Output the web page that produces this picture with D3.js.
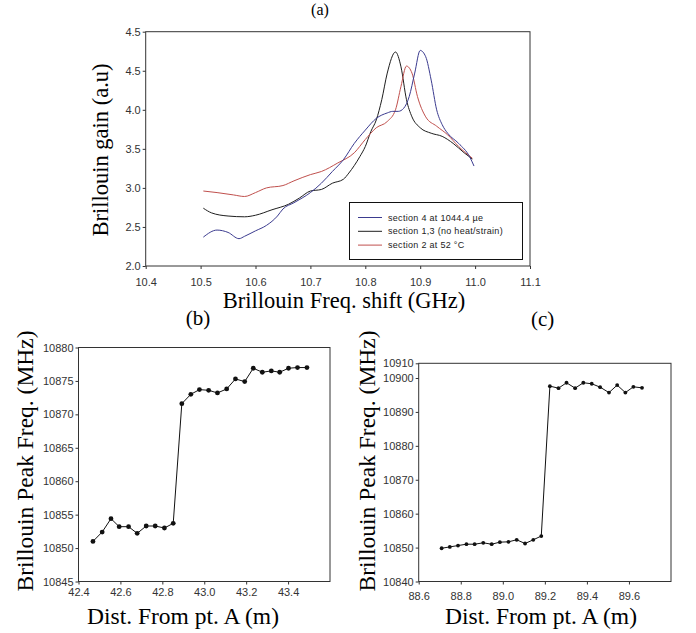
<!DOCTYPE html>
<html>
<head>
  <style type="text/css">
    body { margin: 0; background: #fff; }
    svg text { fill: #222; }
    .tick text { font-family: "Liberation Sans", Arial, sans-serif; font-size: 11px; fill: #333; }
    .tick line { stroke: #333; }
    .lbl { font-family: "Liberation Serif", "Times New Roman", serif; fill: #000; }
    .frame { fill: none; stroke: #333; stroke-width: 1px; }
    .leg text { font-family: "Liberation Sans", Arial, sans-serif; font-size: 9px; letter-spacing: 0.3px; }
  </style>
</head>
<body>
<svg></svg>
<script src="https://d3js.org/d3.v7.min.js"></script>
<script>
    var width = 696;
    var height = 633;

    /* (a) Brillouin gain spectra */
    var freqTicks = [10.4, 10.5, 10.6, 10.7, 10.8, 10.9, 11.0, 11.1];
    var gainTicks = [2.0, 2.5, 3.0, 3.5, 4.0, 4.5, 5.0];
    var gainTickLabels = ["2.0", "2.5", "3.0", "3.5", "4.0", "4.5", "4.5"];

    var blueF = [10.505, 10.53, 10.55, 10.57, 10.58, 10.60, 10.62, 10.64, 10.65, 10.67, 10.70, 10.72, 10.74, 10.76, 10.78, 10.80, 10.82, 10.84, 10.85, 10.86, 10.87, 10.88, 10.89, 10.90, 10.91, 10.92, 10.93, 10.94, 10.95, 10.97, 10.99, 10.998];
    var blueG = [2.37, 2.46, 2.43, 2.35, 2.38, 2.45, 2.52, 2.64, 2.73, 2.81, 2.94, 3.06, 3.21, 3.36, 3.57, 3.74, 3.89, 3.96, 3.98, 3.98, 4.02, 4.17, 4.47, 4.76, 4.68, 4.38, 4.00, 3.81, 3.70, 3.57, 3.40, 3.28];

    var blackF = [10.505, 10.52, 10.55, 10.58, 10.60, 10.63, 10.66, 10.68, 10.70, 10.72, 10.74, 10.76, 10.77, 10.79, 10.80, 10.81, 10.82, 10.83, 10.84, 10.855, 10.865, 10.875, 10.885, 10.90, 10.92, 10.94, 10.96, 10.98, 10.995];
    var blackG = [2.74, 2.68, 2.64, 2.63, 2.65, 2.72, 2.79, 2.87, 2.96, 2.98, 3.06, 3.11, 3.19, 3.40, 3.53, 3.72, 3.87, 4.13, 4.47, 4.74, 4.55, 4.13, 3.91, 3.77, 3.70, 3.66, 3.57, 3.45, 3.37];

    var redF = [10.505, 10.53, 10.56, 10.58, 10.60, 10.62, 10.65, 10.67, 10.70, 10.72, 10.75, 10.78, 10.80, 10.82, 10.84, 10.855, 10.865, 10.875, 10.885, 10.895, 10.91, 10.93, 10.95, 10.97, 10.995];
    var redG = [2.96, 2.94, 2.91, 2.89, 2.94, 3.00, 3.03, 3.09, 3.17, 3.21, 3.32, 3.45, 3.62, 3.77, 3.85, 4.00, 4.30, 4.56, 4.47, 4.17, 3.91, 3.79, 3.68, 3.53, 3.38];

    var legendNames = ["section 4 at 1044.4 \u00b5e", "section 1,3 (no heat/strain)", "section 2 at 52 \u00b0C"];
    var lineColors = ["#3b3b8f", "#1e1e1e", "#c0504d"];

    /* (b) peak frequency vs distance, section 2 */
    var distB = [42.469, 42.513, 42.555, 42.594, 42.639, 42.680, 42.723, 42.766, 42.810, 42.852, 42.893, 42.936, 42.977, 43.021, 43.063, 43.107, 43.149, 43.193, 43.234, 43.277, 43.320, 43.360, 43.402, 43.445, 43.490];
    var peakB = [10851.0, 10852.4, 10854.4, 10853.2, 10853.2, 10852.2, 10853.3, 10853.3, 10853.0, 10853.7, 10871.6, 10873.0, 10873.7, 10873.6, 10873.2, 10873.8, 10875.3, 10874.9, 10876.9, 10876.3, 10876.5, 10876.3, 10876.9, 10877.0, 10877.0];
    var distTicksB = [42.4, 42.6, 42.8, 43.0, 43.2, 43.4];
    var peakTicksB = [10845, 10850, 10855, 10860, 10865, 10870, 10875, 10880];

    /* (c) peak frequency vs distance, section 4 */
    var distC = [88.709, 88.748, 88.787, 88.827, 88.866, 88.907, 88.947, 88.986, 89.027, 89.066, 89.106, 89.145, 89.183, 89.224, 89.265, 89.303, 89.344, 89.383, 89.423, 89.463, 89.505, 89.544, 89.583, 89.621, 89.662];
    var peakC = [10849.8, 10850.2, 10850.6, 10851.0, 10851.0, 10851.4, 10851.0, 10851.6, 10851.7, 10852.3, 10851.2, 10852.3, 10853.4, 10897.6, 10897.0, 10898.6, 10897.0, 10898.6, 10898.3, 10897.3, 10895.7, 10897.9, 10895.7, 10897.4, 10897.1];
    var distTicksC = [88.6, 88.8, 89.0, 89.2, 89.4, 89.6];
    var peakTicksC = [10840, 10850, 10860, 10870, 10880, 10890, 10900, 10910];

    var svg = d3.select('svg')
      .attr('width', width)
      .attr('height', height);

    function fmt1(d) { return d.toFixed(1); }

    function panel(box, xDomain, yScale, xTicks, yTicks, yFmt, xPad) {
      var x = d3.scaleLinear().domain(xDomain).range([box.left, box.right]);
      svg.append('g')
        .attr('transform', 'translate(0,' + box.bottom + ')')
        .call(d3.axisBottom(x).tickValues(xTicks).tickFormat(fmt1).tickSizeOuter(0).tickSize(3).tickPadding(xPad))
        .call(function(g) { g.select('.domain').remove(); });
      svg.append('g')
        .attr('transform', 'translate(' + box.left + ',0)')
        .call(d3.axisLeft(yScale).tickValues(yTicks).tickFormat(yFmt).tickSizeOuter(0).tickSize(3).tickPadding(2))
        .call(function(g) { g.select('.domain').remove(); });
      svg.append('rect').attr('class', 'frame')
        .attr('x', box.left).attr('y', box.top)
        .attr('width', box.right - box.left).attr('height', box.bottom - box.top);
      return x;
    }

    function label(txt, x, y, size, rotate) {
      var t = svg.append('text').attr('class', 'lbl')
        .attr('text-anchor', 'middle')
        .style('font-size', size + 'px')
        .text(txt);
      if (rotate) t.attr('transform', 'translate(' + x + ',' + y + ') rotate(-90)');
      else t.attr('x', x).attr('y', y);
    }

    /* ---- (a) ---- */
    var boxA = {left: 145.7, right: 530, top: 31.7, bottom: 266};
    var yA = d3.scaleLinear().domain([2, 5]).range([boxA.bottom, boxA.top]);
    var xA = panel(boxA, [10.4, 11.1], yA, freqTicks, gainTicks,
      function(d, i) { return gainTickLabels[i]; }, 9);

    var seriesA = [
      {f: blueF, g: blueG},
      {f: blackF, g: blackG},
      {f: redF, g: redG}
    ];
    var lineA = d3.line().curve(d3.curveMonotoneX)
      .x(function(d) { return xA(d[0]); })
      .y(function(d) { return yA(d[1]); });
    // draw black first, then red, blue on top
    [1, 2, 0].forEach(function(k) {
      var pts = seriesA[k].f.map(function(v, i) { return [v, seriesA[k].g[i]]; });
      svg.append('path').datum(pts)
        .attr('fill', 'none')
        .attr('stroke', lineColors[k])
        .attr('stroke-width', 1)
        .attr('d', lineA);
    });

    var leg = svg.append('g').attr('class', 'leg');
    leg.append('rect')
      .attr('x', 349.5).attr('y', 202.5).attr('width', 173).attr('height', 57)
      .attr('fill', '#fff').attr('stroke', '#111');
    legendNames.forEach(function(n, i) {
      var y = 217.5 + i * 13.8;
      leg.append('line').attr('x1', 358).attr('x2', 382).attr('y1', y).attr('y2', y)
        .attr('stroke', lineColors[i]).attr('stroke-width', 1);
      leg.append('text').attr('x', 388).attr('y', y + 3).text(n);
    });

    label('(a)', 320, 15, 16, false);
    label('Brillouin gain (a.u)', 108, 150, 22.5, true);
    label('Brillouin Freq. shift (GHz)', 344, 308, 22.5, false);

    /* ---- (b) ---- */
    var boxB = {left: 78.5, right: 330, top: 347.5, bottom: 581.5};
    var yB = d3.scaleLinear().domain([10845, 10880]).range([boxB.bottom, boxB.top]);
    var xB = panel(boxB, [42.4, 43.6], yB, distTicksB, peakTicksB, d3.format('d'), 4);
    var ptsB = distB.map(function(v, i) { return [v, peakB[i]]; });
    svg.append('path').datum(ptsB)
      .attr('fill', 'none').attr('stroke', '#111').attr('stroke-width', 1)
      .attr('d', d3.line().x(function(d) { return xB(d[0]); }).y(function(d) { return yB(d[1]); }));
    svg.append('g').selectAll('circle').data(ptsB).enter().append('circle')
      .attr('cx', function(d) { return xB(d[0]); })
      .attr('cy', function(d) { return yB(d[1]); })
      .attr('r', 2.4).attr('fill', '#111');

    label('(b)', 198, 325, 21, false);
    label('Brillouin Peak Freq. (MHz)', 33, 461, 23.5, true);
    label('Dist. From pt. A (m)', 183, 624, 23.5, false);

    /* ---- (c) ---- */
    var boxC = {left: 418.7, right: 671, top: 363.3, bottom: 581.5};
    // top label of the reference sits closer than the regular step
    var yC = d3.scaleLinear().domain([10840, 10900, 10910]).range([boxC.bottom, 378, boxC.top]);
    var xC = panel(boxC, [88.6, 89.8], yC, distTicksC, peakTicksC, d3.format('d'), 7.5);
    var ptsC = distC.map(function(v, i) { return [v, peakC[i]]; });
    svg.append('path').datum(ptsC)
      .attr('fill', 'none').attr('stroke', '#111').attr('stroke-width', 1)
      .attr('d', d3.line().x(function(d) { return xC(d[0]); }).y(function(d) { return yC(d[1]); }));
    svg.append('g').selectAll('circle').data(ptsC).enter().append('circle')
      .attr('cx', function(d) { return xC(d[0]); })
      .attr('cy', function(d) { return yC(d[1]); })
      .attr('r', 1.9).attr('fill', '#111');

    label('(c)', 542.7, 326, 21, false);
    label('Brillouin Peak Freq. (MHz)', 375, 461, 23.5, true);
    label('Dist. From pt. A (m)', 541, 624, 23.5, false);
  </script>
</body>
</html>
